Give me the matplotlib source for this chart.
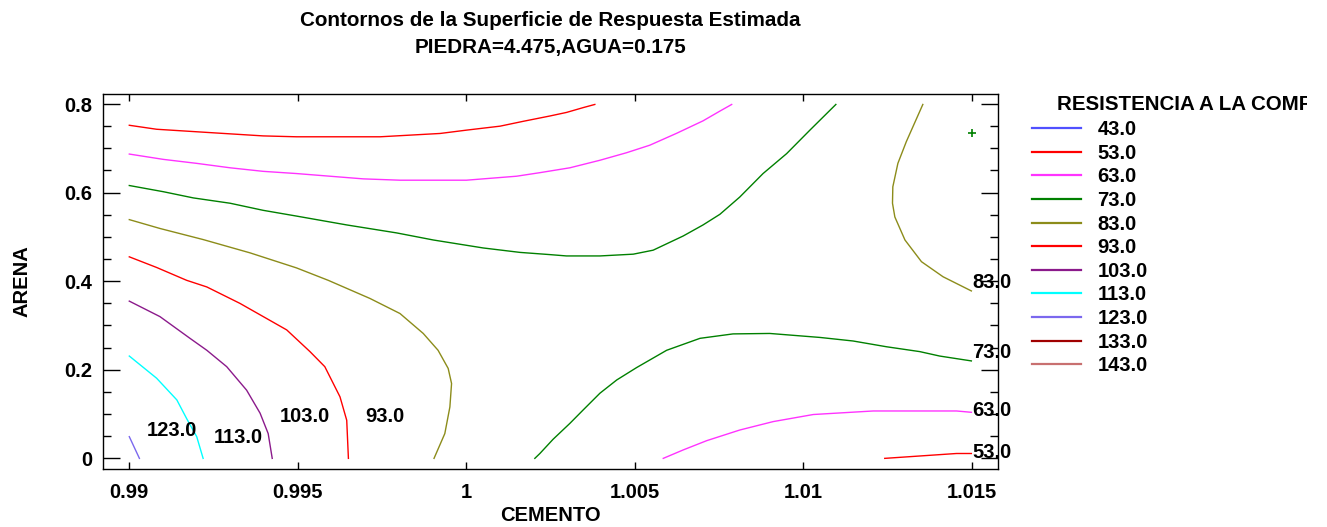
import matplotlib.pyplot as plt
from matplotlib.lines import Line2D
from matplotlib.ticker import MultipleLocator
from matplotlib.transforms import Bbox, TransformedBbox

plt.rcParams['font.family'] = ['Liberation Sans', 'DejaVu Sans']
plt.rcParams['font.weight'] = 'bold'

# Contour lines of the estimated response surface (CEMENTO vs ARENA)
c53_top_x = [0.99, 0.99081, 0.99249, 0.99397, 0.99496, 0.99744, 0.99922, 1.0, 1.0010, 1.00169, 1.00248, 1.00297, 1.00347, 1.00381]
c53_top_y = [0.752, 0.743, 0.735, 0.728, 0.726, 0.726, 0.7335, 0.741, 0.750, 0.761, 0.773, 0.781, 0.792, 0.799]

c63_top_x = [0.99, 0.99101, 0.9920, 0.99299, 0.99397, 0.99496, 0.99694, 0.99803, 1.0, 1.00149, 1.00218,
             1.00307, 1.00396, 1.00475, 1.00544, 1.00624, 1.00702, 1.00752, 1.00787]
c63_top_y = [0.687, 0.675, 0.666, 0.656, 0.648, 0.643, 0.631, 0.628, 0.628, 0.637, 0.645,
             0.656, 0.673, 0.690, 0.707, 0.734, 0.762, 0.784, 0.799]

c73_top_x = [0.99, 0.99101, 0.9919, 0.99299, 0.99397, 0.99496, 0.99645, 0.99793, 0.99902, 1.0005, 1.00159,
             1.00248, 1.00297, 1.00396, 1.00495, 1.00554, 1.00643, 1.00702, 1.00752, 1.00811, 1.0088,
             1.0095, 1.01019, 1.01096]
c73_top_y = [0.616, 0.602, 0.588, 0.576, 0.560, 0.547, 0.527, 0.509, 0.493, 0.475, 0.465,
             0.460, 0.457, 0.457, 0.461, 0.470, 0.502, 0.527, 0.551, 0.590, 0.643,
             0.688, 0.741, 0.799]

c83_left_x = [0.99, 0.99091, 0.99219, 0.99358, 0.99496, 0.99590, 0.99714, 0.99803, 0.99872, 0.99916,
              0.99946, 0.99956, 0.99951, 0.99936, 0.99904]
c83_left_y = [0.539, 0.519, 0.494, 0.464, 0.430, 0.402, 0.361, 0.327, 0.282, 0.244,
              0.203, 0.169, 0.116, 0.056, 0.0]

c93_x = [0.99, 0.99081, 0.9917, 0.99230, 0.99328, 0.99467, 0.99536, 0.9958, 0.99625, 0.99645, 0.9965]
c93_y = [0.455, 0.431, 0.402, 0.387, 0.350, 0.290, 0.241, 0.207, 0.139, 0.086, 0.0]

c103_x = [0.99, 0.99091, 0.9918, 0.9923, 0.99289, 0.99348, 0.99388, 0.99412, 0.99424]
c103_y = [0.355, 0.320, 0.271, 0.244, 0.207, 0.154, 0.102, 0.056, 0.0]

c113_x = [0.99, 0.99081, 0.99141, 0.9917, 0.9920, 0.99219]
c113_y = [0.231, 0.181, 0.132, 0.090, 0.049, 0.0]

c123_x = [0.99, 0.9903]
c123_y = [0.049, 0.0]

c73_low_x = [1.00203, 1.00218, 1.00257, 1.00307, 1.00346, 1.00396, 1.00446, 1.00505, 1.00594, 1.00693,
             1.00791, 1.009, 1.01049, 1.01147, 1.01246, 1.01345, 1.01404, 1.01498]
c73_low_y = [0.0, 0.011, 0.043, 0.079, 0.109, 0.147, 0.177, 0.205, 0.244, 0.271,
             0.281, 0.282, 0.273, 0.265, 0.252, 0.241, 0.231, 0.220]

c63_low_x = [1.00584, 1.00643, 1.00713, 1.00811, 1.0091, 1.01029, 1.01207, 1.01454, 1.01498]
c63_low_y = [0.0, 0.019, 0.040, 0.064, 0.083, 0.099, 0.107, 0.107, 0.104]

c53_low_x = [1.01241, 1.01454, 1.01498]
c53_low_y = [0.0, 0.011, 0.011]

c83_right_x = [1.01354, 1.01305, 1.0128, 1.01265, 1.01264, 1.01271, 1.01301, 1.0135, 1.01414, 1.01498]
c83_right_y = [0.799, 0.715, 0.666, 0.613, 0.576, 0.545, 0.493, 0.444, 0.410, 0.378]

# contour label text and positions
left_labels = ['123.0', '113.0', '103.0', '93.0']
left_label_x = [0.99127, 0.99322, 0.99521, 0.99758]
left_label_y = [0.064, 0.046, 0.095, 0.095]
right_labels = ['83.0', '73.0', '63.0', '53.0']
right_label_y = [0.397, 0.239, 0.109, 0.013]

# design point
point_x = [1.015]
point_y = [0.735]

levels = ['43.0', '53.0', '63.0', '73.0', '83.0', '93.0', '103.0', '113.0', '123.0', '133.0', '143.0']
level_colors = ['#5050ff', '#ff0000', '#ff33ff', '#008000', '#8c8c1a', '#ff0000',
                '#8b1a8b', '#00ffff', '#7b68ee', '#a00000', '#c87070']
col = dict(zip(levels, level_colors))

fig = plt.figure(figsize=(13.27, 5.27), dpi=100)
ax = fig.add_axes([103 / 1327, 58 / 527, 895 / 1327, 375 / 527])

lw = 1.0
ax.plot(c53_top_x, c53_top_y, color=col['53.0'], lw=lw)
ax.plot(c63_top_x, c63_top_y, color=col['63.0'], lw=lw)
ax.plot(c73_top_x, c73_top_y, color=col['73.0'], lw=lw)
ax.plot(c83_left_x, c83_left_y, color=col['83.0'], lw=lw)
ax.plot(c93_x, c93_y, color=col['93.0'], lw=lw)
ax.plot(c103_x, c103_y, color=col['103.0'], lw=lw)
ax.plot(c113_x, c113_y, color=col['113.0'], lw=lw)
ax.plot(c123_x, c123_y, color=col['123.0'], lw=lw)
ax.plot(c73_low_x, c73_low_y, color=col['73.0'], lw=lw)
ax.plot(c63_low_x, c63_low_y, color=col['63.0'], lw=lw)
ax.plot(c53_low_x, c53_low_y, color=col['53.0'], lw=lw)
ax.plot(c83_right_x, c83_right_y, color=col['83.0'], lw=lw)
ax.plot(point_x, point_y, '+', color='#008000', ms=6, mew=1.2, clip_on=False)

for t, x, y in zip(left_labels, left_label_x, left_label_y):
    ax.text(x, y, t, ha='center', va='center', fontsize=14.5, fontweight='bold')
for t, y in zip(right_labels, right_label_y):
    ax.text(1.015, y, t, ha='left', va='center', fontsize=14.5, fontweight='bold', clip_on=False)

ax.set_xlim(0.98922, 1.01577)
ax.set_ylim(-0.024, 0.8226)
ax.set_xticks([0.99, 0.995, 1.0, 1.005, 1.01, 1.015])
ax.set_xticklabels(['0.99', '0.995', '1', '1.005', '1.01', '1.015'])
ax.set_yticks([0, 0.2, 0.4, 0.6, 0.8])
ax.set_yticklabels(['0', '0.2', '0.4', '0.6', '0.8'])
ax.yaxis.set_minor_locator(MultipleLocator(0.05))
ax.tick_params(axis='both', which='both', direction='in', top=True, right=True, width=1.0)
ax.tick_params(axis='x', which='major', length=5, labelsize=14.5, pad=10)
ax.tick_params(axis='y', which='major', length=12, labelsize=14.5, pad=8)
ax.tick_params(axis='y', which='minor', length=6)
for s in ax.spines.values():
    s.set_linewidth(1.0)

ax.set_xlabel('CEMENTO', fontsize=14.5, fontweight='bold', labelpad=3)
ax.set_ylabel('ARENA', fontsize=14.5, fontweight='bold', labelpad=23)

fig.text(550.5 / 1327, 1 - 20 / 527, 'Contornos de la Superficie de Respuesta Estimada',
         ha='center', va='center', fontsize=14.9, fontweight='bold')
fig.text(550.5 / 1327, 1 - 47 / 527, 'PIEDRA=4.475,AGUA=0.175',
         ha='center', va='center', fontsize=14.9, fontweight='bold')

# legend for the contour levels
handles = [Line2D([], [], color=c, lw=1.6) for c in level_colors]
fig.legend(handles, levels, loc='upper left', bbox_to_anchor=(1022 / 1327, 1 - 110 / 527),
           frameon=False, handlelength=2.45, handletextpad=0.8,
           labelspacing=0.23, borderpad=0, prop={'weight': 'bold', 'size': 14.5})
leg_title = fig.text(1057 / 1327, 1 - 104 / 527, 'RESISTENCIA A LA COMPRESION', ha='left', va='center',
                     fontsize=14.8, fontweight='bold')
leg_title.set_clip_box(TransformedBbox(Bbox([[0, 0], [1307 / 1327, 1]]), fig.transFigure))
leg_title.set_clip_on(True)

fig.savefig('out.png', dpi=100)
